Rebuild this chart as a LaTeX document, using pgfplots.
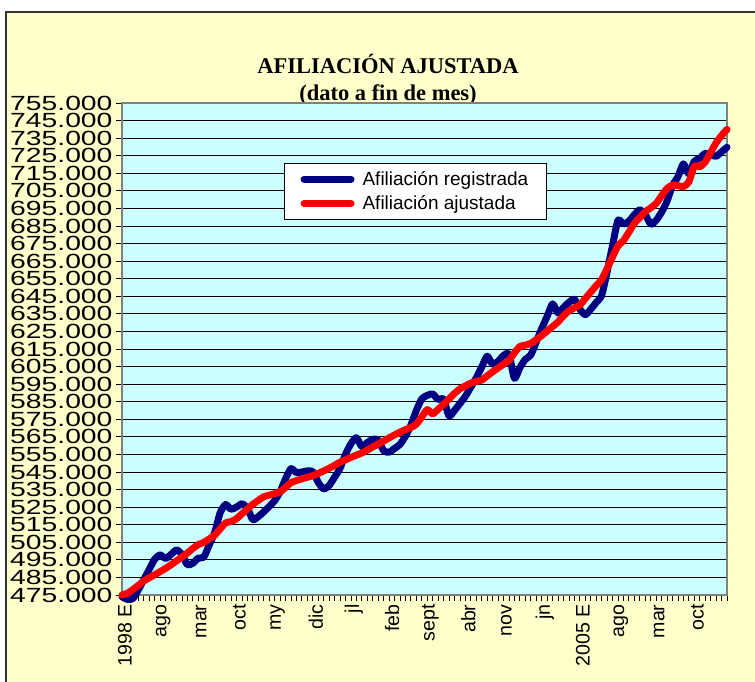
\documentclass[border=0pt]{standalone}
\usepackage{pgfplots}
\usepackage{pgfplotstable}
\pgfplotsset{compat=1.18}
\usepackage{fontspec}
\setmainfont{Liberation Sans}
\newfontfamily\timesfont{Liberation Serif}
\definecolor{bgyellow}{HTML}{FFFFCC}
\definecolor{plotcyan}{HTML}{CCFFFF}
\definecolor{navyblue}{HTML}{000080}
\definecolor{framegray}{HTML}{808080}

\pgfplotstableread{
m reg aju
0 474 475
1 472.5 476
2 473 478.1
3 478 480.5
4 483.7 483
5 489.6 484.8
6 495.4 486.5
7 497.8 488.3
8 495.8 490.1
9 498.1 492.2
10 500.6 494.4
11 498.2 496.6
12 492.2 498.9
13 493.1 501.5
14 496 503.7
15 496.5 504.9
16 503.5 506.9
17 510.5 509
18 521.7 512.6
19 526.5 516
20 523.8 516.8
21 525 518.4
22 526.9 521.2
23 524.4 523.9
24 517.9 526.6
25 519.6 528.8
26 522.3 530.9
27 525.3 531.8
28 528.7 532.7
29 533.7 533.7
30 541.1 536.2
31 546.9 538.9
32 544.7 540.1
33 545 541.1
34 545.6 542
35 545.2 542.9
36 539.1 544.2
37 535.4 545.6
38 537.3 547.1
39 542 548.8
40 547.1 550.6
41 555 551.9
42 561.1 553.3
43 564.5 554.6
44 559.5 555.8
45 561.7 557.5
46 563.6 559.2
47 563.2 560.9
48 557.1 562.6
49 556.3 564.4
50 558.4 566.1
51 560.7 567.7
52 565.4 569.1
53 571.6 570.3
54 580 572.2
55 586.6 576.3
56 588.6 580.5
57 589.4 578.1
58 586.3 580.7
59 586.4 583.5
60 576.9 586.6
61 580 589.7
62 584 592.3
63 588.1 594
64 593.3 595.6
65 598.6 596.6
66 604.7 597.3
67 610.9 599.7
68 606.3 602
69 608 604.2
70 611.3 606.3
71 612 608.4
72 598.3 612.8
73 604.4 616.4
74 609.1 617.2
75 611.6 618.2
76 619 620.3
77 626.6 622.6
78 633.6 625.2
79 640.7 627.8
80 635.5 630.4
81 638.6 633.9
82 641.5 636.7
83 643.3 638.4
84 637.7 640
85 634.5 643.7
86 637.6 647.4
87 641.5 651
88 645.5 654.5
89 658.9 660.8
90 673.9 667.4
91 688.3 673.7
92 686.1 676.7
93 687.7 681.5
94 691.4 686.5
95 694.2 689.8
96 691.6 693.1
97 686.1 695.3
98 688.2 697.8
99 692.9 702.2
100 699.1 706.4
101 708.1 708.3
102 713 708
103 720.4 707.4
104 714.6 710.1
105 721.8 719
106 723.6 718.7
107 726.3 721.4
108 725.5 726.9
109 724.7 732.3
110 727.2 736.5
111 729.8 740
}\datatable

\begin{document}
\begin{tikzpicture}[x=1pt,y=1pt]
\useasboundingbox (0,0) rectangle (755,682);
\fill[white] (0,0) rectangle (755,682);
\fill[bgyellow] (6,0) rectangle (755,670);
\draw[line width=1.5pt, black!80] (6,0) -- (6,670) -- (755,670);
\node[font=\timesfont\bfseries\fontsize{22.5}{24}\selectfont, anchor=base] at (388,608) {AFILIACIÓN AJUSTADA};
\node[font=\timesfont\bfseries\fontsize{22.5}{24}\selectfont, anchor=base] at (388,581) {(dato a fin de mes)};
\begin{axis}[
  at={(122pt,87pt)}, anchor=south west, scale only axis,
  width=605pt, height=492pt,
  xmin=0, xmax=111, ymin=475, ymax=755,
  clip=false,
  axis background/.style={fill=plotcyan},
  axis line style={draw=framegray, line width=1.5pt},
  ytick={475,485,...,755},
  ymajorgrids,
  major grid style={black, line width=0.9pt},
  xtick={0,7,...,105},
  xticklabels={1998 E,ago,mar,oct,my,dic,jl,feb,sept,abr,nov,jn,2005 E,ago,mar,oct},
  minor xtick={0,...,111},
  xtick pos=bottom, ytick pos=left,
  tick align=outside, tickwidth=6pt, subtickwidth=6pt,
  major tick style={black, line width=0.8pt},
  minor tick style={black, line width=0.8pt},
  /pgf/number format/assume math mode=true,
  x tick label style={rotate=90, anchor=east, yshift=-3pt, font=\fontsize{19.6}{20}\selectfont},
  y tick label style={font=\fontsize{20.5}{21}\selectfont},
  yticklabel={\scalebox{1.38}[1]{\pgfmathprintnumber[fixed,fixed zerofill,precision=3]{\tick}}},
  legend style={at={(rel axis cs:0.268,0.878)}, anchor=north west, draw=black, line width=0.8pt, fill=white,
    font=\fontsize{19}{20}\selectfont, inner xsep=16pt, inner ysep=6pt, row sep=5pt,
    /tikz/every odd column/.append style={column sep=6pt}},
  legend cell align=left,
  legend image code/.code={\draw[#1, line cap=round] (0pt,0pt) -- (47pt,0pt);},
]
\addplot[navyblue, line width=7pt, line join=round, line cap=round, smooth, tension=0.4] table[x=m,y=reg]{\datatable};
\addlegendentry{Afiliación registrada}
\addplot[red, line width=7pt, line join=round, line cap=round, smooth, tension=0.4] table[x=m,y=aju]{\datatable};
\addlegendentry{Afiliación ajustada}
\end{axis}
\end{tikzpicture}
\end{document}
